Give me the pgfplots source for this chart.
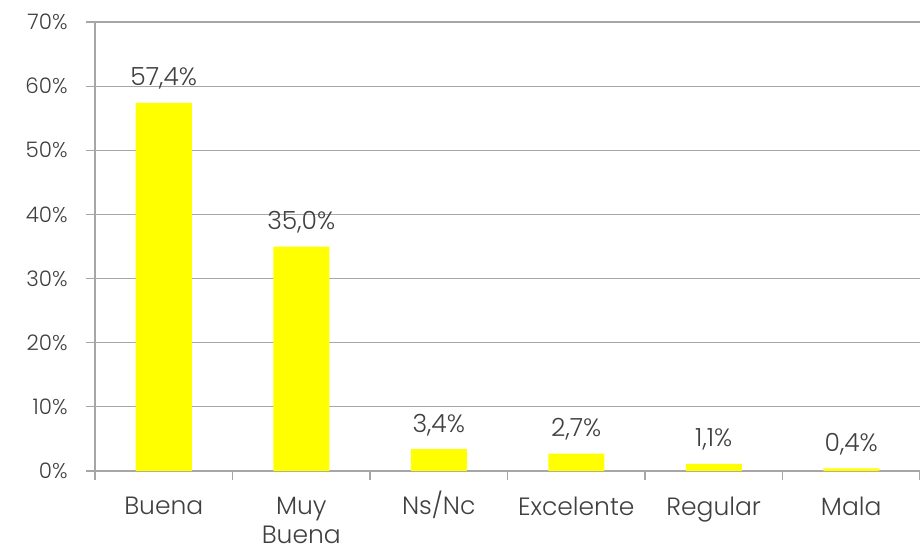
\documentclass[border=0pt]{standalone}
\usepackage{fontspec}
\setmainfont{Poppins Light}
\usepackage{pgfplots}
\pgfplotsset{compat=1.18}
\definecolor{txt}{HTML}{404040}
\definecolor{gridc}{HTML}{A6A6A6}
\definecolor{baryel}{HTML}{FFFF00}
\begin{document}
\begin{tikzpicture}
\begin{axis}[
  width=412.5pt, height=224.5pt, scale only axis,
  xmin=-0.5, xmax=5.5, ymin=0, ymax=70,
  axis lines=left, axis line style={-, draw=gridc, line width=0.6pt},
  ytick={0,10,...,70}, ymajorgrids, grid style={draw=gridc, line width=0.6pt},
  yticklabel={\pgfmathprintnumber{\tick}\%},
  /pgf/number format/assume math mode=true,
  xtick={0,...,5},
  xticklabels={Buena, Muy\\[1.5pt]Buena, Ns\smash{/}Nc, Excelente, Regular, Mala},
  minor xtick={-0.5,0.5,...,5.5},
  major x tick style={draw=none},
  tick align=outside,
  major tick length=4.5pt, minor tick length=4.5pt,
  tick style={draw=gridc, line width=0.6pt},
  yticklabel style={font=\fontsize{10.7}{13}\selectfont, text=txt, inner sep=0pt, anchor=east, xshift=-9pt},
  xticklabel style={font=\fontsize{12.5}{13}\selectfont, text=txt, align=center, inner sep=0pt, anchor=north, yshift=-8.5pt},
  ybar, bar width=28pt,
  nodes near coords={\pgfmathprintnumber[fixed,fixed zerofill,precision=1,use comma]{\pgfplotspointmeta}\%},
  nodes near coords style={font=\fontsize{12.5}{13}\selectfont, text=txt, anchor=base, inner sep=0pt, yshift=8.5pt},
  clip=false,
]
\addplot[fill=baryel, draw=none] coordinates {(0,57.4) (1,35.0) (2,3.4) (3,2.7) (4,1.1) (5,0.4)};
\end{axis}
\pgfresetboundingbox
\path[use as bounding box] ([xshift=-47.5pt,yshift=-40pt]current axis.south west) rectangle ([yshift=11pt]current axis.north east);
\end{tikzpicture}
\end{document}
